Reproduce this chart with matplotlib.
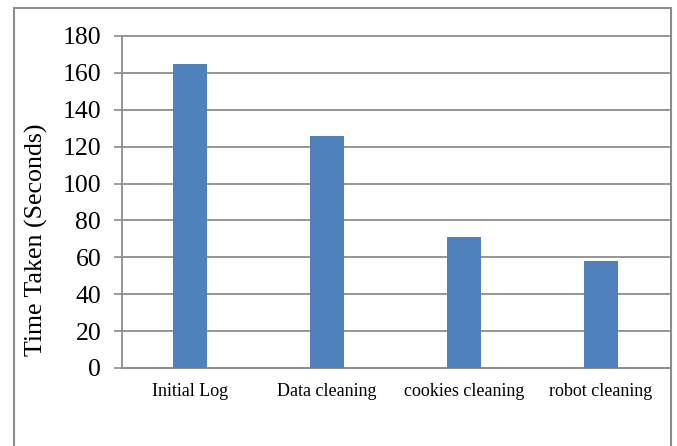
import numpy as np
import matplotlib.pyplot as plt
from matplotlib.patches import Rectangle

# values
categories = ['Initial Log', 'Data cleaning', 'cookies cleaning', 'robot cleaning']
times = [165, 126, 71, 58]
yticks = [0, 20, 40, 60, 80, 100, 120, 140, 160, 180]

plt.rcParams['font.family'] = ['Liberation Serif', 'DejaVu Serif']

fig = plt.figure(figsize=(6.77, 4.46), dpi=100)
ax = fig.add_axes([0.1802, 0.1749, 0.8080, 0.7444])

x = np.arange(len(categories))
ax.bar(x, times, width=0.25, color='#4F81BD', zorder=3)

ax.set_xlim(-0.5, len(categories) - 0.5)
ax.set_ylim(0, 180)
ax.set_yticks(yticks)
ax.set_xticks(x)
ax.set_xticklabels(categories, fontsize=13)
ax.tick_params(axis='y', labelsize=18.5, length=6, width=1.2, color='#8c8c8c', pad=9)
ax.tick_params(axis='x', length=0, pad=10.5)

ax.grid(axis='y', color='#8c8c8c', linewidth=1.3, zorder=0)
for gl in ax.get_ygridlines():
    gl.set_clip_on(False)
for s in ['top', 'right']:
    ax.spines[s].set_visible(False)
ax.spines['left'].set_color('#8c8c8c')
ax.spines['left'].set_linewidth(1.3)
ax.spines['bottom'].set_color('#8c8c8c')
ax.spines['bottom'].set_linewidth(1.3)

fig.text(36 / 677, 1 - 240 / 446, 'Time Taken (Seconds)', fontsize=18.6,
         rotation=90, ha='center', va='center')

# outer chart border (bottom edge is cut off in the original)
fig.patches.append(Rectangle((13.5 / 677, -0.05), (670.5 - 13.5) / 677, 1.05 - 7.5 / 446,
                             transform=fig.transFigure, fill=False,
                             edgecolor='#8c8c8c', linewidth=1.5))

fig.savefig('out.png', dpi=100)
